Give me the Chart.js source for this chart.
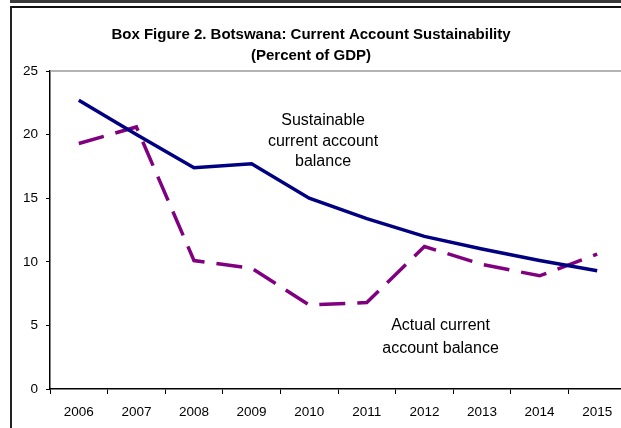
<!DOCTYPE html>
<html>
<head>
<meta charset="utf-8">
<script src="https://cdn.jsdelivr.net/npm/chart.js@4"></script>
<style>
  html, body { margin: 0; padding: 0; background: #fff; overflow: hidden; }
  #wrap { position: relative; width: 621px; height: 428px; overflow: hidden; }
  #band { position: absolute; left: 10px; top: 0; width: 611px; height: 3px; background: #3a3a3a; }
  #frame { position: absolute; left: 10px; top: 6px; width: 620px; height: 430px;
           border-left: 2px solid #222; border-top: 2px solid #111; }
  #chartBox { position: absolute; left: 0; top: 0; width: 680px; height: 428px; }
</style>
</head>
<body>
<div id="wrap">
  <div id="band"></div>
  <div id="frame"></div>
  <div id="chartBox"><canvas id="caChart" width="680" height="428"></canvas></div>
</div>
<script>
// Box Figure 2. Botswana: Current Account Sustainability (Percent of GDP)
const years = ['2006', '2007', '2008', '2009', '2010', '2011', '2012', '2013', '2014', '2015'];
const sustainable = [22.7, 20.0, 17.4, 17.7, 15.0, 13.4, 12.0, 11.0, 10.1, 9.3];
const actual = [19.3, 20.6, 10.1, 9.5, 6.6, 6.8, 11.2, 9.8, 8.9, 10.6];
const yTicks = [0, 5, 10, 15, 20, 25];

const titleLines = ['Box Figure 2. Botswana: Current Account Sustainability', '(Percent of GDP)'];
// annotation text, anchored in data units (category index, value)
const sustainableLabel = ['Sustainable', 'current account', 'balance'];
const actualLabel = ['Actual current', 'account balance'];

const textPlugin = {
    id: 'textPlugin',
    afterDraw(chart) {
        const c = chart.ctx;
        const area = chart.chartArea;
        const xs = chart.scales.x, ys = chart.scales.y;

        // top border of the plot area
        c.save();
        c.strokeStyle = '#9a9a9a';
        c.lineWidth = 1.5;
        c.beginPath();
        c.moveTo(area.left, area.top);
        c.lineTo(area.right, area.top);
        c.stroke();

        c.fillStyle = '#000';
        c.textAlign = 'center';
        c.textBaseline = 'middle';
        c.font = 'bold 15px "Liberation Sans", Arial, sans-serif';
        c.fillText(titleLines[0], 311, 35);
        c.fillText(titleLines[1], 311, 56);

        c.font = '16px "Liberation Sans", Arial, sans-serif';
        const sx = xs.getPixelForValue(4.24), sy = ys.getPixelForValue(21.1);
        sustainableLabel.forEach((t, i) => c.fillText(t, sx, sy + i * 20.5));
        const ax = xs.getPixelForValue(6.28), ay = ys.getPixelForValue(5.0);
        actualLabel.forEach((t, i) => c.fillText(t, ax, ay + i * 23));
        c.restore();
    }
};

const ctx = document.getElementById('caChart').getContext('2d');
const chart = new Chart(ctx, {
    type: 'line',
    data: {
        labels: years,
        datasets: [{
            label: 'Sustainable current account balance',
            data: sustainable,
            borderColor: '#000080',
            borderWidth: 3.5,
            pointRadius: 0,
            tension: 0,
            fill: false
        }, {
            label: 'Actual current account balance',
            data: actual,
            borderColor: '#800080',
            borderWidth: 3.5,
            borderDash: [26, 12],
            pointRadius: 0,
            tension: 0,
            fill: false
        }]
    },
    options: {
        responsive: false,
        animation: false,
        layout: { padding: { left: 0, top: 71, right: 54, bottom: 0 } },
        plugins: {
            legend: { display: false },
            title: { display: false },
            tooltip: { enabled: false }
        },
        scales: {
            x: {
                offset: true,
                grid: { display: true, drawOnChartArea: false, offset: true, tickLength: 5, color: '#000' },
                border: { color: '#000', width: 1.5 },
                ticks: { color: '#000', font: { family: '"Liberation Sans", Arial, sans-serif', size: 13.5 }, padding: 10, maxRotation: 0 },
                afterFit(scale) { scale.height = 39; }
            },
            y: {
                min: 0,
                max: 25,
                afterBuildTicks(scale) { scale.ticks = yTicks.map(v => ({ value: v })); },
                grid: { display: true, drawOnChartArea: false, tickLength: 4, color: '#000' },
                border: { color: '#000', width: 1.5 },
                ticks: { color: '#000', font: { family: '"Liberation Sans", Arial, sans-serif', size: 13.5 }, padding: 8 },
                afterFit(scale) { scale.width = 50; }
            }
        }
    },
    plugins: [textPlugin]
});
</script>
</body>
</html>
